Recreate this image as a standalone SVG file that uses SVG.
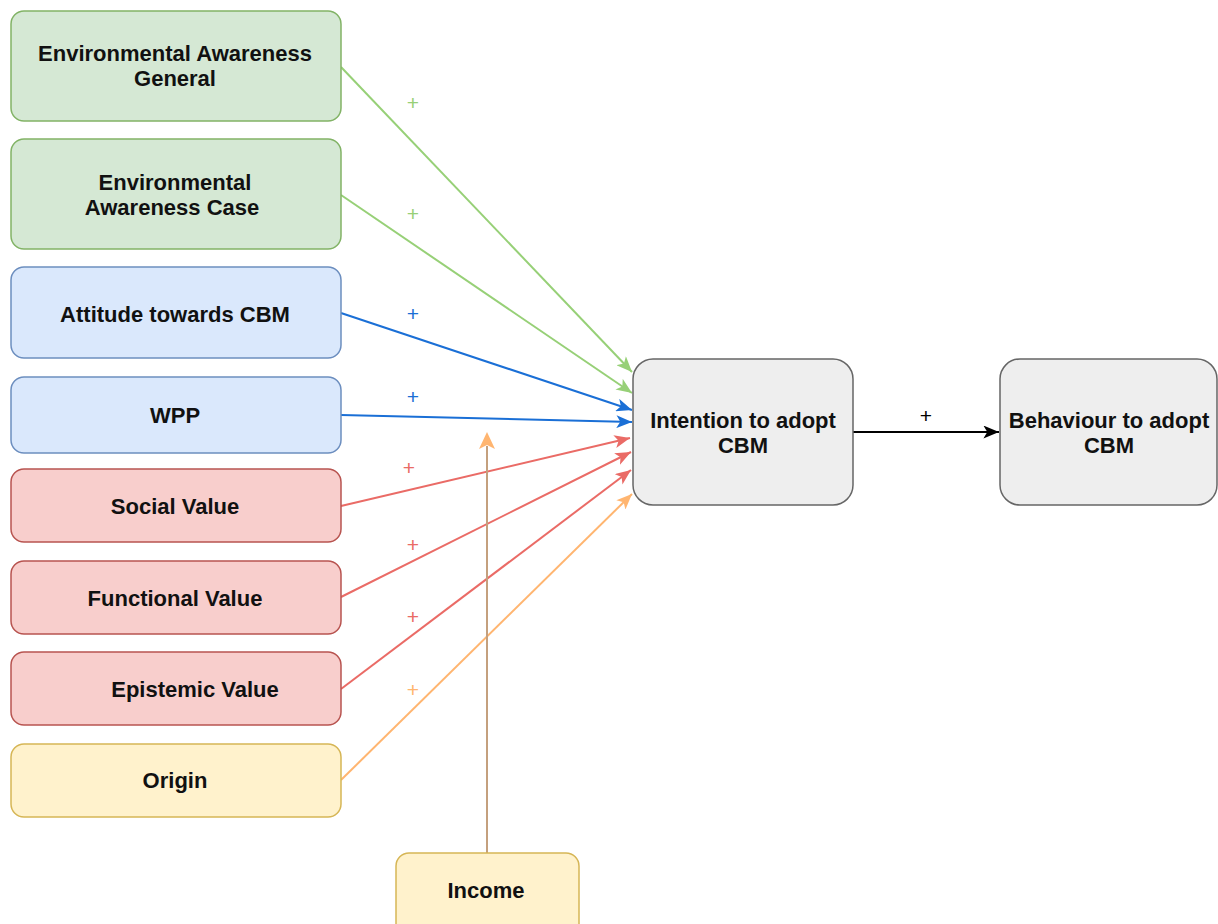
<svg xmlns="http://www.w3.org/2000/svg" width="1218" height="924" viewBox="0 0 1218 924">
<style>
.lbl{font-family:"Liberation Sans",Arial,Helvetica,sans-serif;font-weight:bold;font-size:22px;fill:#111;text-anchor:middle}
.pl{font-family:"Liberation Sans",Arial,sans-serif;font-size:21px;text-anchor:middle}
.g{fill:#d5e8d4;stroke:#82b366;stroke-width:1.5}
.b{fill:#dae8fc;stroke:#6c8ebf;stroke-width:1.5}
.r{fill:#f8cecc;stroke:#b85450;stroke-width:1.5}
.y{fill:#fff2cc;stroke:#d6b656;stroke-width:1.5}
.k{fill:#eeeeee;stroke:#666666;stroke-width:1.5}
.e{fill:none;stroke-width:2}
</style>
<defs>
<marker id="ag" viewBox="0 0 12 10" refX="12" refY="5" markerWidth="16" markerHeight="13" markerUnits="userSpaceOnUse" orient="auto"><path d="M0,0 L12,5 L0,10 L3,5 Z" fill="#97d077"/></marker>
<marker id="ab" viewBox="0 0 12 10" refX="12" refY="5" markerWidth="16" markerHeight="13" markerUnits="userSpaceOnUse" orient="auto"><path d="M0,0 L12,5 L0,10 L3,5 Z" fill="#1a6fd6"/></marker>
<marker id="ar" viewBox="0 0 12 10" refX="12" refY="5" markerWidth="16" markerHeight="13" markerUnits="userSpaceOnUse" orient="auto"><path d="M0,0 L12,5 L0,10 L3,5 Z" fill="#ea6b66"/></marker>
<marker id="ao" viewBox="0 0 12 10" refX="12" refY="5" markerWidth="16" markerHeight="13" markerUnits="userSpaceOnUse" orient="auto"><path d="M0,0 L12,5 L0,10 L3,5 Z" fill="#ffb570"/></marker>
<marker id="ak" viewBox="0 0 12 10" refX="12" refY="5" markerWidth="16" markerHeight="13" markerUnits="userSpaceOnUse" orient="auto"><path d="M0,0 L12,5 L0,10 L3,5 Z" fill="#000"/></marker>
</defs>
<rect width="1218" height="924" fill="#fff"/>
<g id="connectors">
<line class="e" x1="341" y1="67" x2="632" y2="372" stroke="#97d077" marker-end="url(#ag)"/>
<line class="e" x1="341" y1="195" x2="632" y2="393" stroke="#97d077" marker-end="url(#ag)"/>
<line class="e" x1="341" y1="313" x2="632" y2="410" stroke="#1a6fd6" marker-end="url(#ab)"/>
<line class="e" x1="341" y1="415" x2="632" y2="422" stroke="#1a6fd6" marker-end="url(#ab)"/>
<line class="e" x1="341" y1="506" x2="630" y2="438" stroke="#ea6b66" marker-end="url(#ar)"/>
<line class="e" x1="341" y1="597" x2="631" y2="452" stroke="#ea6b66" marker-end="url(#ar)"/>
<line class="e" x1="341" y1="689" x2="631" y2="470" stroke="#ea6b66" marker-end="url(#ar)"/>
<line class="e" x1="341" y1="780" x2="632" y2="494" stroke="#ffb570" marker-end="url(#ao)"/>
<line x1="487" y1="853" x2="487" y2="446" stroke="#c4a07e" stroke-width="2"/>
<path d="M487,432 L495,449 L487,445 L479,449 Z" fill="#ffb570"/>
<line class="e" x1="853" y1="432" x2="999" y2="432" stroke="#000" marker-end="url(#ak)"/>
<text class="pl" x="413" y="110" fill="#97d077">+</text>
<text class="pl" x="413" y="221" fill="#97d077">+</text>
<text class="pl" x="413" y="321" fill="#1a6fd6">+</text>
<text class="pl" x="413" y="404" fill="#1a6fd6">+</text>
<text class="pl" x="409" y="475" fill="#ea6b66">+</text>
<text class="pl" x="413" y="552" fill="#ea6b66">+</text>
<text class="pl" x="413" y="624" fill="#ea6b66">+</text>
<text class="pl" x="413" y="697" fill="#ffb570">+</text>
<text class="pl" x="926" y="423" fill="#000">+</text>
</g>
<g id="n-eag"><rect class="g" x="11" y="11" width="330" height="110" rx="13"/><text class="lbl" x="175" y="61">Environmental Awareness</text><text class="lbl" x="175" y="86">General</text></g>
<g id="n-eac"><rect class="g" x="11" y="139" width="330" height="110" rx="13"/><text class="lbl" x="175" y="190">Environmental</text><text class="lbl" x="172" y="215">Awareness Case</text></g>
<g id="n-att"><rect class="b" x="11" y="267" width="330" height="91" rx="13"/><text class="lbl" x="175" y="322">Attitude towards CBM</text></g>
<g id="n-wpp"><rect class="b" x="11" y="377" width="330" height="76" rx="13"/><text class="lbl" x="175" y="423">WPP</text></g>
<g id="n-soc"><rect class="r" x="11" y="469" width="330" height="73" rx="13"/><text class="lbl" x="175" y="514">Social Value</text></g>
<g id="n-fun"><rect class="r" x="11" y="561" width="330" height="73" rx="13"/><text class="lbl" x="175" y="606">Functional Value</text></g>
<g id="n-epi"><rect class="r" x="11" y="652" width="330" height="73" rx="13"/><text class="lbl" x="195" y="697">Epistemic Value</text></g>
<g id="n-ori"><rect class="y" x="11" y="744" width="330" height="73" rx="13"/><text class="lbl" x="175" y="788">Origin</text></g>
<g id="n-inc"><rect class="y" x="396" y="853" width="183" height="90" rx="13"/><text class="lbl" x="486" y="898">Income</text></g>
<g id="n-int"><rect class="k" x="633" y="359" width="220" height="146" rx="20"/><text class="lbl" x="743" y="428">Intention to adopt</text><text class="lbl" x="743" y="453">CBM</text></g>
<g id="n-beh"><rect class="k" x="1000" y="359" width="217" height="146" rx="20"/><text class="lbl" x="1109" y="428">Behaviour to adopt</text><text class="lbl" x="1109" y="453">CBM</text></g>
</svg>
